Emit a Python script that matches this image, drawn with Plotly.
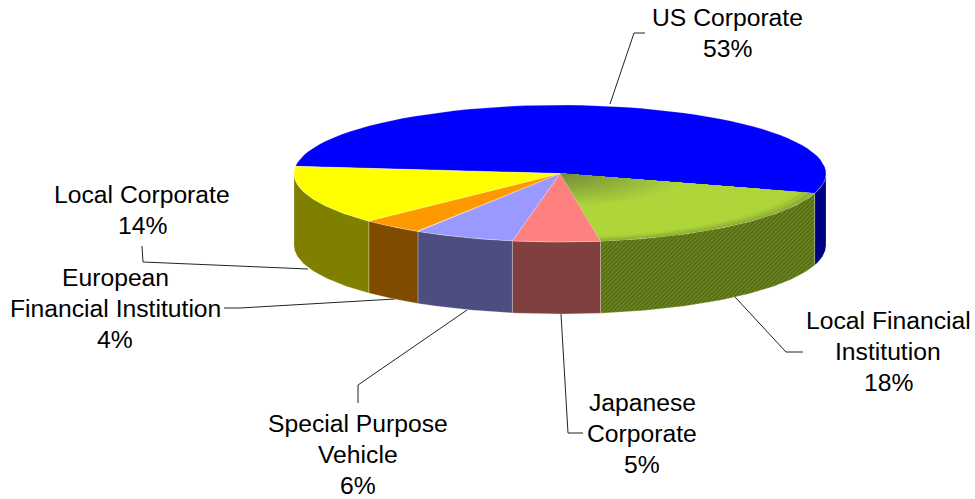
import math
import plotly.graph_objects as go

categories = ["US Corporate", "Local Financial Institution", "Japanese Corporate",
              "Special Purpose Vehicle", "European Financial Institution", "Local Corporate"]
values = [53.0, 17.9, 5.3, 6.1, 3.8, 13.9]
top_colors = ["#0000FF", "#AED63A", "#FF8080", "#9999FF", "#FF9900", "#FFFF00"]
side_colors = ["#000080", "#5F7818", "#804040", "#4D4D80", "#804D00", "#808000"]

label_lines = [
    ["US Corporate", "53%"],
    ["Local Financial", "Institution", "18%"],
    ["Japanese", "Corporate", "5%"],
    ["Special Purpose", "Vehicle", "6%"],
    ["European", "Financial Institution", "4%"],
    ["Local Corporate", "14%"],
]
label_x = [727, 888, 642, 358, 115, 142]
label_y = [17, 320, 402, 423, 277, 194]
line_step = 31.3
leaders = [
    [(610, 104), (634, 33), (645, 33)],
    [(735, 297), (786, 352), (803, 352)],
    [(561, 314), (568, 433), (583, 433)],
    [(467, 310), (358, 385), (358, 403)],
    [(395, 299), (240, 308), (224, 308)],
    [(308, 269), (143, 262), (142, 246)],
]

CX, CY, RX, RY, DEPTH = 560, 173.5, 266, 68.5, 72
START_DEG = -96.0  # angle measured from the front of the ellipse
EDGE = dict(color="rgba(255,255,255,0.30)", width=0.8)


def pt(deg, scale=1.0, dy=0.0):
    a = math.radians(deg)
    return CX + RX * scale * math.sin(a), CY + RY * scale * math.cos(a) + dy


def arc(a0, a1, scale=1.0, dy=0.0, n=60):
    return [pt(a0 + (a1 - a0) * i / n, scale, dy) for i in range(n + 1)]


def poly(points, fill, line=None, pattern=None):
    xs = [p[0] for p in points] + [points[0][0]]
    ys = [p[1] for p in points] + [points[0][1]]
    kw = dict(fillpattern=pattern) if pattern else {}
    return go.Scatter(x=xs, y=ys, mode="lines", fill="toself", fillcolor=fill,
                      line=line or dict(width=0), hoverinfo="skip", showlegend=False, **kw)


def mix(c0, c1, t):
    return "rgb(%d,%d,%d)" % tuple(round(a + (b - a) * t) for a, b in zip(c0, c1))


# slice angle ranges: walk clockwise from the left edge over the back
spans = []
cur = START_DEG
for v in values:
    nxt = cur - v * 3.6
    spans.append((cur, nxt))
    cur = nxt

fig = go.Figure()

for pts in leaders:
    fig.add_trace(go.Scatter(x=[p[0] for p in pts], y=[p[1] for p in pts], mode="lines",
                             line=dict(color="#222222", width=1), hoverinfo="skip", showlegend=False))

# sides: only the part of each slice facing the viewer (-90..90 degrees)
for (a0, a1), col, name in zip(spans, side_colors, categories):
    lo, hi = min(a0, a1), max(a0, a1)
    for shift in (0, 360):
        l, h = max(lo + shift, -90), min(hi + shift, 90)
        if h > l:
            top = arc(l, h)
            bot = arc(h, l, dy=DEPTH)
            if name.startswith("Local Financial"):
                pat = dict(shape="/", size=3, solidity=0.5, fgcolor="#38470A", bgcolor="#6E8820")
                fig.add_trace(poly(top + bot, col, EDGE, pat))
            else:
                fig.add_trace(poly(top + bot, col, EDGE))

# top faces
stops = [(0.0, (112, 136, 58)), (0.5, (174, 214, 58)), (0.94, (174, 214, 58)), (1.0, (145, 178, 50))]
for (a0, a1), col, name in zip(spans, top_colors, categories):
    if name.startswith("Local Financial"):
        steps = 40
        for i in range(steps, 0, -1):
            s = i / steps
            for (s0, c0), (s1, c1) in zip(stops, stops[1:]):
                if s0 <= s <= s1:
                    c = mix(c0, c1, (s - s0) / (s1 - s0))
                    break
            fig.add_trace(poly([(CX, CY)] + arc(a0, a1, s), c))
    else:
        fig.add_trace(poly([(CX, CY)] + arc(a0, a1), col, EDGE))

annotations = []
for lines, x, y in zip(label_lines, label_x, label_y):
    for i, text in enumerate(lines):
        annotations.append(dict(x=x, y=y + i * line_step, text=text, showarrow=False,
                                xanchor="center", yanchor="middle",
                                font=dict(family="Liberation Sans, Arial, sans-serif", size=24.7, color="#000000")))

fig.update_layout(
    width=975, height=499, margin=dict(l=0, r=0, t=0, b=0),
    paper_bgcolor="white", plot_bgcolor="white", showlegend=False, annotations=annotations,
    xaxis=dict(range=[0, 975], visible=False, fixedrange=True),
    yaxis=dict(range=[499, 0], visible=False, fixedrange=True),
)
fig.write_html("out.html", config=dict(displayModeBar=False),
               post_script="document.body.style.margin='0';document.body.style.overflow='hidden';")
